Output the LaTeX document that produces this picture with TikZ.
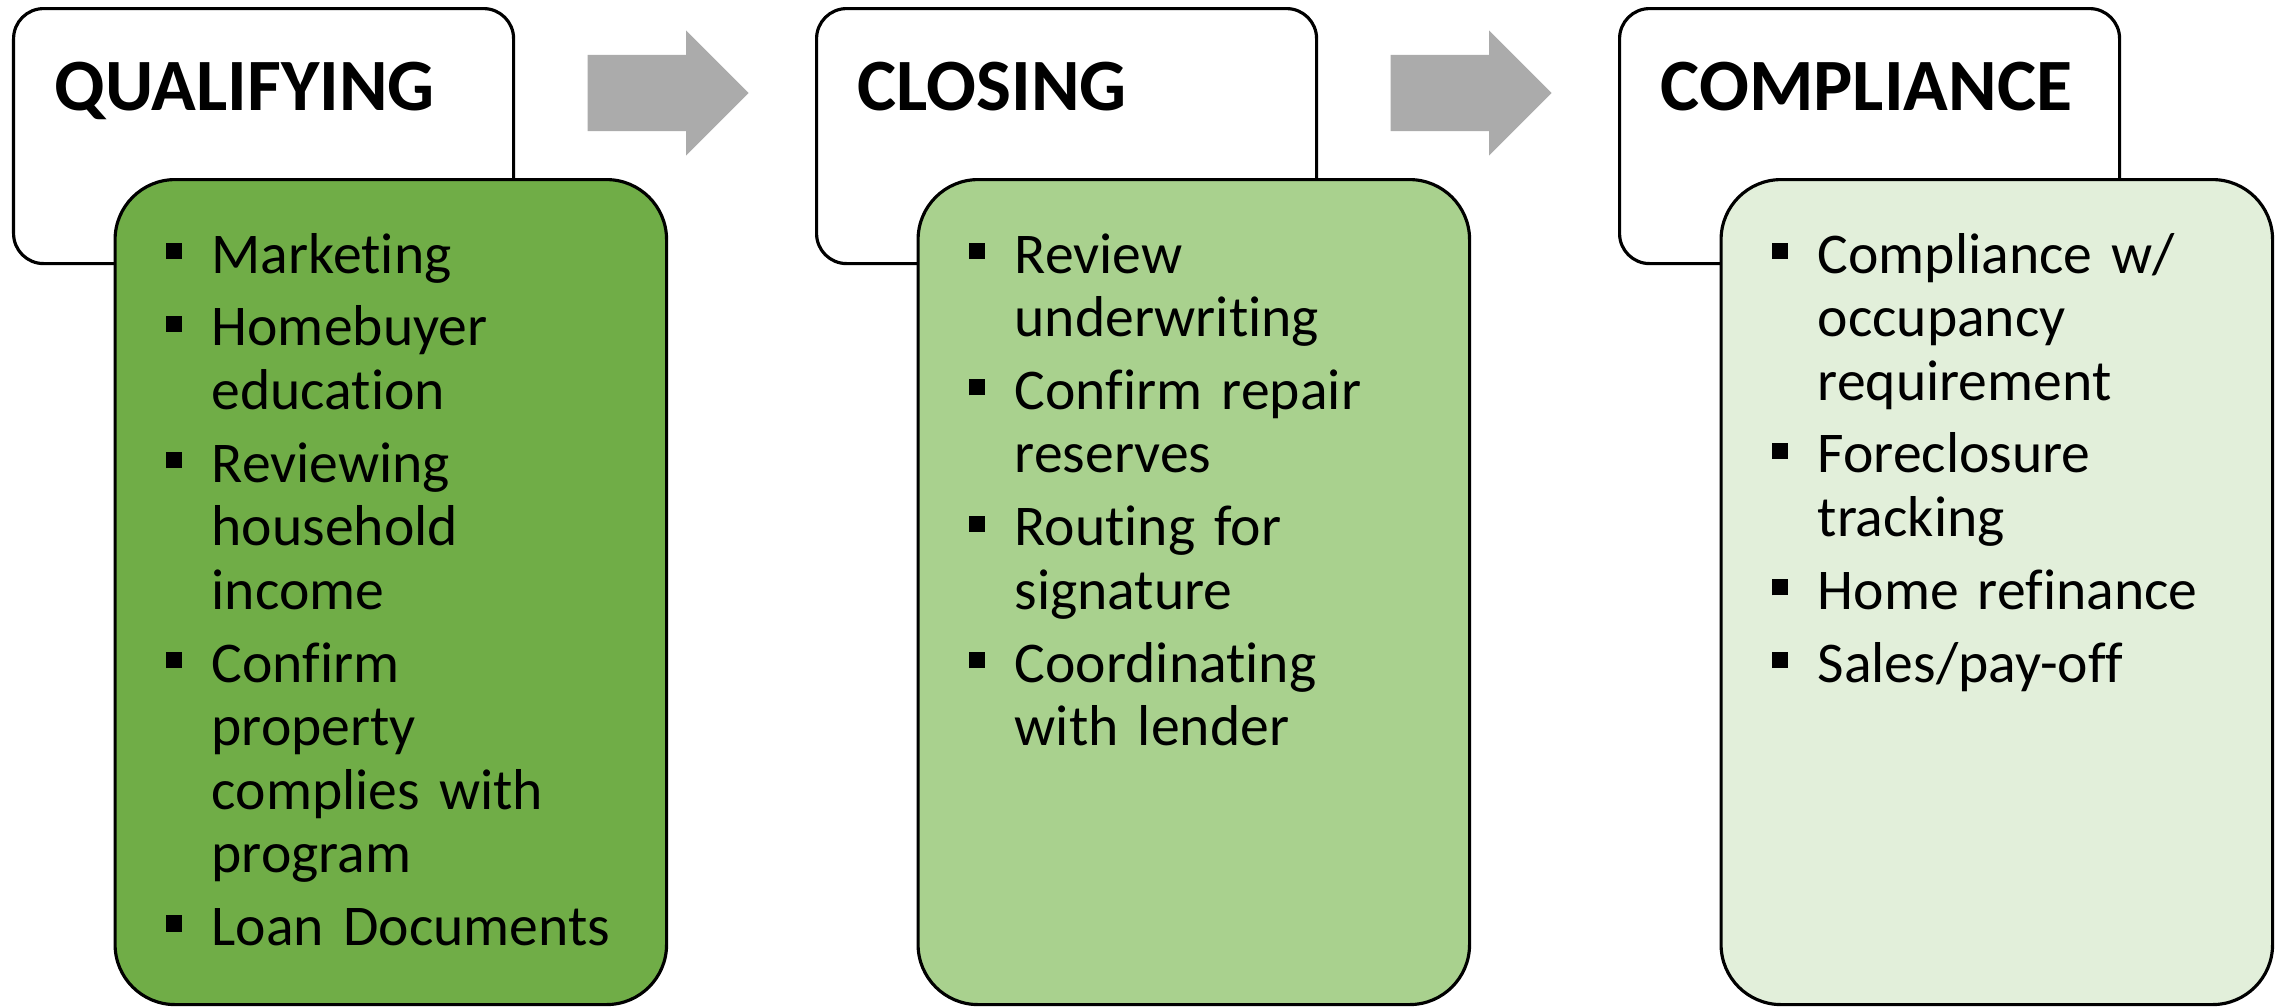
\documentclass[tikz,border=0pt]{standalone}
\usepackage{fontspec}
\setmainfont{Carlito}[Ligatures=NoCommon]
\usetikzlibrary{shapes.arrows}

\definecolor{darkgreen}{HTML}{70AD47}
\definecolor{midgreen}{HTML}{A9D18E}
\definecolor{palegreen}{HTML}{E2EFDA}
\definecolor{arrowgray}{HTML}{ABABAB}

% square bullet hanging left of the text
\newcommand{\bul}{\leavevmode\llap{\rule[4pt]{4.6pt}{4.6pt}\hspace{0.3cm}}}

\begin{document}
\begin{tikzpicture}[
        head/.style={
        rectangle, draw=black, line width=0.9pt,
        rounded corners=0.3cm, fill=white,
        minimum width=5cm, minimum height=2.55cm,
        inner sep=0pt, anchor=north west},
        body/.style={
        rectangle, draw=black, line width=0.9pt,
        rounded corners=0.6cm,
        minimum width=5.515cm, minimum height=8.25cm,
        inner sep=0pt, anchor=north west},
        title/.style={
        anchor=base west, inner sep=0pt,
        font=\fontsize{21}{25}\selectfont\bfseries},
        list/.style={
        anchor=base west, inner sep=0pt,
        text width=4.5cm, align=left,
        font=\fontsize{16.4}{18.1}\selectfont},
        flow/.style={
        single arrow, fill=arrowgray, draw=none,
        inner xsep=0pt, inner ysep=0.375cm, anchor=west,
        minimum height=1.61cm, minimum width=1.24cm,
        single arrow head extend=0.245cm},
        ]
        \useasboundingbox (0,0) rectangle (22.82,10.06);

        % header boxes
        \node (h1) [head] at (0.12,9.99){};
        \node (h2) [head] at (8.15,9.99){};
        \node (h3) [head] at (16.18,9.99){};

        \node (t1) [title] at (0.54,8.96){QUALIFYING};
        \node (t2) [title] at (8.57,8.96){CLOSING};
        \node (t3) [title] at (16.60,8.96){COMPLIANCE};

        % arrows between the steps
        \node (a1) [flow] at (5.87,9.13){};
        \node (a2) [flow] at (13.90,9.13){};

        % task boxes
        \node (b1) [body, fill=darkgreen] at (1.135,8.28){};
        \node (b2) [body, fill=midgreen] at (9.165,8.28){};
        \node (b3) [body, fill=palegreen] at (17.195,8.28){};

        \node (l1) [list] at (2.11,7.33){\bul Marketing\\[2.6pt]
          \bul Homebuyer\\ education\\[2.6pt]
          \bul Reviewing\\ household\\ income\\[2.6pt]
          \bul Confirm\\ property\\ complies with\\ program\\[2.6pt]
          \bul Loan Documents};
        \node (l2) [list] at (10.14,7.33){\bul Review\\ underwriting\\[2.6pt]
          \bul Confirm repair\\ reserves\\[2.6pt]
          \bul Routing for\\ signature\\[2.6pt]
          \bul Coordinating\\ with lender};
        \node (l3) [list] at (18.17,7.33){\bul Compliance w/\\ occupancy\\ requirement\\[2.6pt]
          \bul Foreclosure\\ tracking\\[2.6pt]
          \bul Home refinance\\[2.6pt]
          \bul Sales/pay-off};
    \end{tikzpicture}
\end{document}
